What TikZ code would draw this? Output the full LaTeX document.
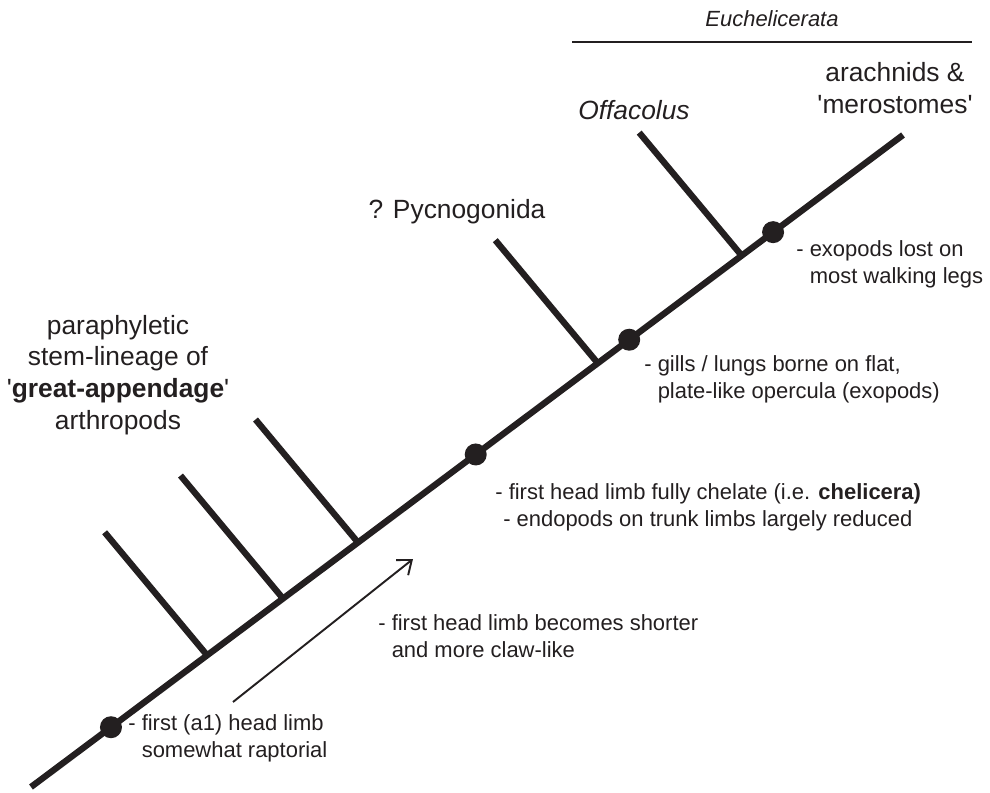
\documentclass[tikz,border=0pt]{standalone}
\usepackage{fontspec}
\setmainfont{Liberation Sans}
\usetikzlibrary{calc, arrows.meta}
\definecolor{ink}{HTML}{231F20}

\begin{document}
\begin{tikzpicture}[
    color=ink,
    lineage/.style={line width=3.6pt},
    nodedot/.style={circle, fill=ink, inner sep=0pt, minimum size=0.44cm},
    taxon/.style={align=center, inner sep=0pt, font=\fontsize{15}{18}\selectfont},
    trait/.style={align=left, anchor=north west, inner sep=0pt, font=\fontsize{12.5}{15.5}\selectfont}
]
\useasboundingbox (0,0) rectangle (19.8,15.84);
% Main line
\coordinate (root) at (0.62,0.10);
\coordinate (tip) at (18.06,13.14);
\draw[lineage] (root) -- (tip);
% Side branches
\foreach \t/\n in {0.202/b1, 0.289/b2, 0.375/b3, 0.650/b4, 0.815/b5} {
    \coordinate (\n base) at ($(root)!\t!(tip)$);
    \coordinate (\n end) at ($(\n base)+(-2.05,2.46)$);
    \draw[lineage] (\n base) -- (\n end);
}
% Character dots
\node[nodedot] (d1) at ($(root)!0.0917!(tip)$) {};
\node[nodedot] (d2) at ($(root)!0.510!(tip)$) {};
\node[nodedot] (d3) at ($(root)!0.686!(tip)$) {};
\node[nodedot] (d4) at ($(root)!0.851!(tip)$) {};
% Trend arrow
\coordinate (trend start) at (4.66,1.80);
\coordinate (trend end) at (8.26,4.66);
\draw[line width=1.1pt, -{Straight Barb[length=7pt,width=11pt]}] (trend start) -- (trend end);
% Characters
\node[trait] (c1) at (2.56,1.56) {- first (a1) head limb\\\phantom{- }somewhat raptorial};
\node[trait] (c2) at (7.56,3.56) {- first head limb becomes shorter\\\phantom{- }and more claw-like};
\node[trait] (c3) at (9.90,6.18) {- first head limb fully chelate (i.e. \textbf{chelicera)}\\\hspace{4.5pt}- endopods on trunk limbs largely reduced};
\node[trait] (c4) at (12.88,8.74) {- gills / lungs borne on flat,\\\phantom{- }plate-like opercula (exopods)};
\node[trait] (c5) at (15.92,11.04) {- exopods lost on\\\phantom{- }most walking legs};
% Taxa
\node[taxon] (stem) at (2.36,8.34) {paraphyletic\\stem-lineage of\\\textquotesingle\textbf{great-appendage}\textquotesingle\\arthropods};
\node[taxon] (pyc) at (9.14,11.60) {? Pycnogonida};
\node[taxon] (offa) at (12.68,13.64) {\itshape Offacolus};
\node[taxon] (arach) at (17.90,14.08) {arachnids \&\\\textquotesingle merostomes\textquotesingle};
% Euchelicerata bar
\coordinate (eu left) at (11.44,15.0);
\coordinate (eu right) at (19.44,15.0);
\draw[line width=1.5pt] (eu left) -- (eu right);
\node[inner sep=0pt, font=\fontsize{12.5}{15}\selectfont\itshape] (euch) at (15.44,15.46) {Euchelicerata};
\end{tikzpicture}
\end{document}
